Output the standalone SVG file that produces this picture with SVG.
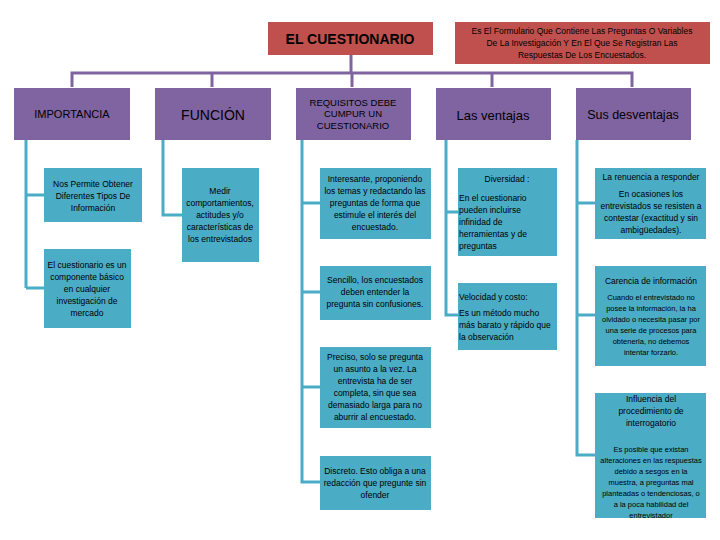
<svg xmlns="http://www.w3.org/2000/svg" width="720" height="540" viewBox="0 0 720 540">
<style>
text{font-family:"Liberation Sans",Arial,sans-serif;text-anchor:middle;fill:#000}
.r{fill:#C0504D}.p{fill:#8064A2}.b{fill:#4BACC6}
.pl{stroke:#8064A2;stroke-width:3;fill:none}.tl{stroke:#4BACC6;stroke-width:3;fill:none}
.s{font-size:8.5px}.m{font-size:9.5px}.l{text-anchor:start}
</style>
<rect width="720" height="540" fill="#fff"/>
<g id="connectors">
<path class="pl" d="M351 55V73M72 87V73H632V87M212 73V87M352 73V87M492 73V87"/>
<path class="tl" d="M26 140V288M26 195H44M26 288H44"/>
<path class="tl" d="M163 140V215H182"/>
<path class="tl" d="M302 140V482H320M302 203H320M302 292H320M302 387H320"/>
<path class="tl" d="M446 140V315H458M446 212H458"/>
<path class="tl" d="M577 140V455H595M577 203H595M577 315H595"/>
</g>
<g id="root"><rect class="r" x="268" y="22" width="165" height="33"/><text x="350" y="44" font-size="14" font-weight="bold">EL CUESTIONARIO</text></g>
<g id="def"><rect class="r" x="455" y="22" width="255" height="42"/><text class="s" x="582" y="34">Es El Formulario Que Contiene Las Preguntas O Variables</text><text class="s" x="582" y="46">De La Investigación Y En El Que Se Registran Las</text><text class="s" x="582" y="58">Respuestas De Los Encuestados.</text></g>
<g id="importancia"><rect class="p" x="14" y="88" width="116" height="52"/><text x="72" y="118" font-size="11">IMPORTANCIA</text></g>
<g id="funcion"><rect class="p" x="155" y="88" width="116" height="52"/><text x="213" y="120" font-size="14">FUNCIÓN</text></g>
<g id="requisitos"><rect class="p" x="296" y="88" width="115" height="52"/><text x="353" y="106" font-size="9.5">REQUISITOS DEBE</text><text x="353" y="117" font-size="9.5">CUMPUR UN</text><text x="353" y="129" font-size="9.5">CUESTIONARIO</text></g>
<g id="ventajas"><rect class="p" x="436" y="88" width="115" height="52"/><text x="493" y="120" font-size="13">Las ventajas</text></g>
<g id="desventajas"><rect class="p" x="576" y="88" width="115" height="52"/><text x="633" y="119" font-size="12.5">Sus desventajas</text></g>
<g id="imp1"><rect class="b" x="44" y="168" width="98" height="54"/><text class="s" x="93" y="187">Nos Permite Obtener</text><text class="s" x="93" y="199">Diferentes Tipos De</text><text class="s" x="93" y="211">Información</text></g>
<g id="imp2"><rect class="b" x="44" y="249" width="87" height="79"/><text class="s" x="87" y="268">El cuestionario es un</text><text class="s" x="87" y="280">componente básico</text><text class="s" x="87" y="292">en cualquier</text><text class="s" x="87" y="304">investigación de</text><text class="s" x="87" y="316">mercado</text></g>
<g id="fun1"><rect class="b" x="182" y="168" width="77" height="94"/><text class="s" x="220" y="194">Medir</text><text class="s" x="220" y="206">comportamientos,</text><text class="s" x="220" y="218">actitudes y/o</text><text class="s" x="220" y="230">características de</text><text class="s" x="220" y="242">los entrevistados</text></g>
<g id="req1"><rect class="b" x="320" y="168" width="111" height="71"/><text class="s" x="375" y="182">Interesante, proponiendo</text><text class="s" x="375" y="194">los temas y redactando las</text><text class="s" x="375" y="206">preguntas de forma que</text><text class="s" x="375" y="218">estimule el interés del</text><text class="s" x="375" y="230">encuestado.</text></g>
<g id="req2"><rect class="b" x="320" y="266" width="111" height="54"/><text class="s" x="375" y="283">Sencillo, los encuestados</text><text class="s" x="375" y="295">deben entender la</text><text class="s" x="375" y="307">pregunta sin confusiones.</text></g>
<g id="req3"><rect class="b" x="320" y="347" width="111" height="81"/><text class="s" x="375" y="360">Preciso, solo se pregunta</text><text class="s" x="375" y="372">un asunto a la vez. La</text><text class="s" x="375" y="384">entrevista ha de ser</text><text class="s" x="375" y="396">completa, sin que sea</text><text class="s" x="375" y="408">demasiado larga para no</text><text class="s" x="375" y="420">aburrir al encuestado.</text></g>
<g id="req4"><rect class="b" x="320" y="456" width="111" height="54"/><text class="s" x="375" y="474">Discreto. Esto obliga a una</text><text class="s" x="375" y="486">redacción que pregunte sin</text><text class="s" x="375" y="498">ofender</text></g>
<g id="ven1"><rect class="b" x="458" y="168" width="99" height="88"/><text class="s" x="507" y="182">Diversidad :</text><text class="s l" x="459" y="201">En el cuestionario</text><text class="s l" x="459" y="213">pueden incluirse</text><text class="s l" x="459" y="225">infinidad de</text><text class="s l" x="459" y="237">herramientas y de</text><text class="s l" x="459" y="249">preguntas</text></g>
<g id="ven2"><rect class="b" x="458" y="283" width="99" height="67"/><text class="s l" x="459" y="300">Velocidad y costo:</text><text class="s l" x="459" y="316">Es un método mucho</text><text class="s l" x="459" y="328">más barato y rápido que</text><text class="s l" x="459" y="340">la observación</text></g>
<g id="des1"><rect class="b" x="595" y="168" width="111" height="71"/><text class="s" x="651" y="180">La renuencia a responder</text><text class="s" x="651" y="197">En ocasiones los</text><text class="s" x="651" y="209">entrevistados se resisten a</text><text class="s" x="651" y="221">contestar (exactitud y sin</text><text class="s" x="651" y="233">ambigüedades).</text></g>
<g id="des2"><rect class="b" x="595" y="266" width="111" height="100"/><text class="s" x="651" y="284">Carencia de información</text><text x="651" y="300" font-size="7.5">Cuando el entrevistado no</text><text x="651" y="311" font-size="7.5">posee la información, la ha</text><text x="651" y="322" font-size="7.5">olvidado o necesita pasar por</text><text x="651" y="333" font-size="7.5">una serie de procesos para</text><text x="651" y="344" font-size="7.5">obtenerla, no debemos</text><text x="651" y="355" font-size="7.5">intentar forzarlo.</text></g>
<g id="des3"><rect class="b" x="595" y="393" width="111" height="125"/><text class="s" x="651" y="402">Influencia del</text><text class="s" x="651" y="414">procedimiento de</text><text class="s" x="651" y="426">interrogatorio</text><text x="651" y="452" font-size="7.5">Es posible que existan</text><text x="651" y="463" font-size="7.5">alteraciones en las respuestas</text><text x="651" y="474" font-size="7.5">debido a sesgos en la</text><text x="651" y="485" font-size="7.5">muestra, a preguntas mal</text><text x="651" y="496" font-size="7.5">planteadas o tendenciosas, o</text><text x="651" y="507" font-size="7.5">a la poca habilidad del</text><text x="651" y="518" font-size="7.5">entrevistador</text></g>
</svg>
